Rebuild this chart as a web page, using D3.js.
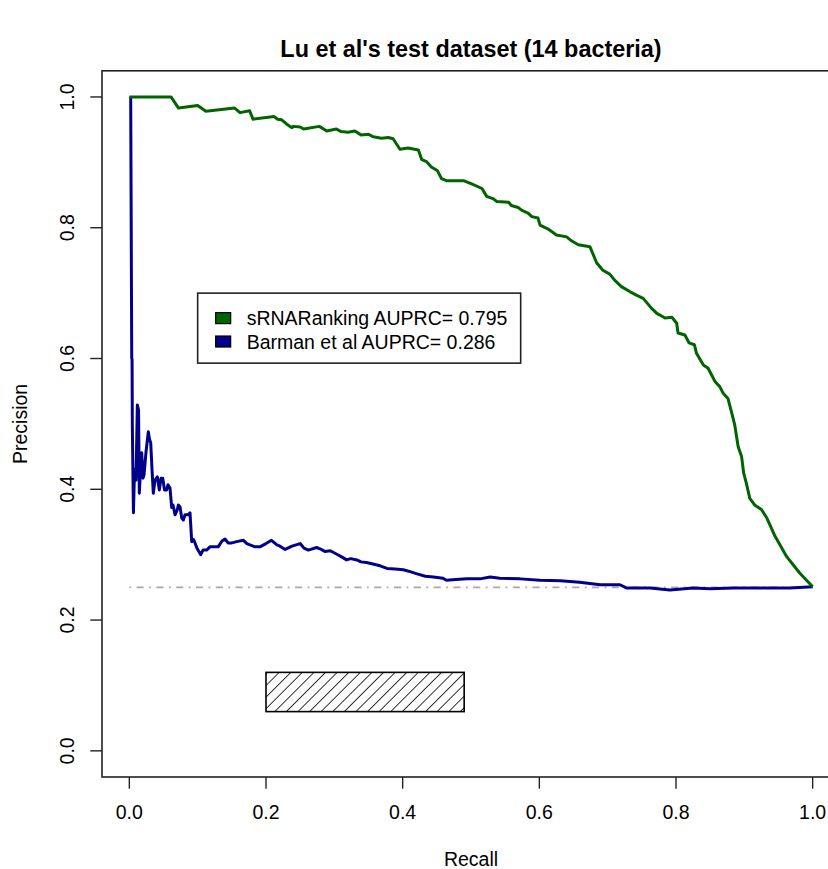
<!DOCTYPE html>
<html>
<head>
<meta charset="utf-8">
<script src="https://cdn.jsdelivr.net/npm/d3@7"></script>
<style>
  body { margin: 0; background: #fff; }
  text { font-family: "Liberation Sans", Arial, sans-serif; fill: #000; }
</style>
</head>
<body>
<svg id="chart" width="828" height="869"></svg>
<script>
// chart values
const titleText = "Lu et al's test dataset (14 bacteria)";
const xTicks = [0, 0.2, 0.4, 0.6, 0.8, 1.0];
const yTicks = [0, 0.2, 0.4, 0.6, 0.8, 1.0];
const seriesNames = ["sRNARanking AUPRC= 0.795", "Barman et al AUPRC= 0.286"];
const seriesColors = ["#006400", "#00008B"];
const baseline = 0.25;
const hatchBox = [0.2, 0.06, 0.49, 0.12];
const legendPos = [0.1, 0.7];

// sRNARanking: [recall, precision]
const srnaRanking = [
  [0,1],[0.061,1],[0.072,0.983],[0.100,0.987],[0.112,0.978],[0.154,0.983],[0.162,0.976],
  [0.176,0.979],[0.181,0.966],[0.212,0.970],[0.217,0.966],[0.223,0.965],[0.232,0.957],
  [0.238,0.953],[0.240,0.955],[0.250,0.954],[0.255,0.951],[0.278,0.955],[0.289,0.948],
  [0.303,0.951],[0.310,0.947],[0.320,0.946],[0.330,0.948],[0.339,0.942],[0.350,0.943],
  [0.357,0.939],[0.369,0.937],[0.379,0.938],[0.386,0.936],[0.396,0.920],[0.408,0.922],
  [0.423,0.919],[0.428,0.904],[0.435,0.901],[0.442,0.893],[0.451,0.887],[0.457,0.875],
  [0.464,0.872],[0.477,0.872],[0.489,0.872],[0.501,0.867],[0.516,0.860],[0.523,0.848],
  [0.533,0.844],[0.538,0.840],[0.555,0.839],[0.559,0.834],[0.569,0.831],[0.574,0.827],
  [0.584,0.822],[0.589,0.817],[0.598,0.815],[0.601,0.804],[0.613,0.798],[0.625,0.789],
  [0.640,0.786],[0.647,0.780],[0.657,0.774],[0.674,0.771],[0.684,0.746],[0.693,0.735],
  [0.703,0.729],[0.711,0.719],[0.720,0.710],[0.733,0.702],[0.742,0.697],[0.752,0.692],
  [0.764,0.677],[0.772,0.669],[0.784,0.662],[0.794,0.663],[0.801,0.654],[0.803,0.639],
  [0.813,0.636],[0.819,0.624],[0.827,0.621],[0.830,0.608],[0.840,0.590],[0.847,0.585],
  [0.857,0.565],[0.864,0.557],[0.869,0.547],[0.876,0.539],[0.881,0.519],[0.886,0.498],
  [0.891,0.465],[0.896,0.450],[0.899,0.425],[0.903,0.409],[0.908,0.386],[0.915,0.376],
  [0.925,0.369],[0.933,0.356],[0.945,0.328],[0.962,0.297],[0.981,0.272],[1.0,0.251]
];

// Barman et al: [recall, precision]
const barman = [
  [0.002,1],[0.0035,0.601],[0.004,0.598],[0.0044,0.498],[0.006,0.364],[0.0076,0.43],
  [0.0098,0.414],[0.0117,0.529],[0.0135,0.521],[0.0146,0.394],[0.0164,0.43],[0.0181,0.456],
  [0.020,0.417],[0.0215,0.422],[0.0244,0.457],[0.0278,0.488],[0.0296,0.476],[0.0313,0.471],
  [0.0332,0.43],[0.0351,0.394],[0.0376,0.414],[0.041,0.419],[0.0439,0.399],[0.0464,0.417],
  [0.0489,0.417],[0.0515,0.399],[0.0547,0.399],[0.0566,0.407],[0.0595,0.402],[0.062,0.372],
  [0.064,0.376],[0.0669,0.361],[0.070,0.368],[0.0717,0.376],[0.0742,0.373],[0.0767,0.356],
  [0.079,0.353],[0.0815,0.361],[0.0863,0.361],[0.0888,0.364],[0.0913,0.32],[0.094,0.323],
  [0.0961,0.318],[0.099,0.310],[0.1045,0.300],[0.1078,0.307],[0.113,0.307],[0.118,0.312],
  [0.123,0.312],[0.130,0.312],[0.1356,0.321],[0.140,0.324],[0.1444,0.318],[0.150,0.318],
  [0.157,0.320],[0.167,0.322],[0.172,0.317],[0.1766,0.315],[0.184,0.312],[0.191,0.312],
  [0.200,0.317],[0.208,0.322],[0.216,0.315],[0.2205,0.313],[0.228,0.308],[0.238,0.313],
  [0.250,0.317],[0.2556,0.310],[0.262,0.307],[0.274,0.311],[0.279,0.309],[0.286,0.305],
  [0.294,0.306],[0.303,0.301],[0.310,0.297],[0.318,0.292],[0.324,0.294],[0.333,0.292],
  [0.339,0.289],[0.347,0.288],[0.355,0.286],[0.367,0.283],[0.377,0.279],[0.389,0.278],
  [0.401,0.277],[0.411,0.274],[0.420,0.271],[0.433,0.267],[0.445,0.266],[0.459,0.264],
  [0.464,0.261],[0.478,0.262],[0.494,0.263],[0.513,0.263],[0.528,0.266],[0.542,0.264],
  [0.572,0.263],[0.601,0.261],[0.631,0.260],[0.659,0.258],[0.689,0.254],[0.718,0.254],
  [0.728,0.249],[0.762,0.249],[0.791,0.246],[0.825,0.249],[0.850,0.248],[0.884,0.249],
  [0.933,0.249],[0.967,0.249],[1.0,0.251]
];

const svg = d3.select("#chart");

const plotL = 102, plotR = 840, plotT = 70.8, plotB = 777;
const fontSize = 19.5;
const lineH = 23.4;

const x = d3.scaleLinear().domain([-0.04, 1.04]).range([plotL, plotR]);
const y = d3.scaleLinear().domain([-0.04, 1.04]).range([plotB, plotT]);

// hatching for the rectangle
const defs = svg.append("defs");
defs.append("pattern")
    .attr("id", "hatch")
    .attr("patternUnits", "userSpaceOnUse")
    .attr("width", 20)
    .attr("height", 8.2)
    .attr("patternTransform", "rotate(-45)")
  .append("line")
    .attr("x1", 0).attr("y1", 0)
    .attr("x2", 20).attr("y2", 0)
    .attr("stroke", "#000")
    .attr("stroke-width", 1.6);

// plot box
svg.append("rect")
    .attr("x", plotL).attr("y", plotT)
    .attr("width", plotR - plotL).attr("height", plotB - plotT)
    .attr("fill", "none")
    .attr("stroke", "#222")
    .attr("stroke-width", 1.6);

// x axis
const xAxis = svg.append("g");
xAxis.selectAll("line")
    .data(xTicks).enter().append("line")
    .attr("x1", d => x(d)).attr("x2", d => x(d))
    .attr("y1", plotB).attr("y2", plotB + lineH * 0.5)
    .attr("stroke", "#222").attr("stroke-width", 1.4);
xAxis.selectAll("text")
    .data(xTicks).enter().append("text")
    .attr("x", d => x(d))
    .attr("y", plotB + lineH * 1.8)
    .attr("text-anchor", "middle")
    .style("font-size", fontSize + "px")
    .text(d => d.toFixed(1));

// y axis
const yAxis = svg.append("g");
yAxis.selectAll("line")
    .data(yTicks).enter().append("line")
    .attr("x1", plotL - lineH * 0.5).attr("x2", plotL)
    .attr("y1", d => y(d)).attr("y2", d => y(d))
    .attr("stroke", "#222").attr("stroke-width", 1.4);
yAxis.selectAll("text")
    .data(yTicks).enter().append("text")
    .attr("transform", d => `translate(${plotL - lineH * 1.2},${y(d)}) rotate(-90)`)
    .attr("text-anchor", "middle")
    .style("font-size", fontSize + "px")
    .text(d => d.toFixed(1));

// titles
svg.append("text")
    .attr("x", (plotL + plotR) / 2).attr("y", 57)
    .attr("text-anchor", "middle")
    .style("font-size", (fontSize * 1.2) + "px")
    .style("font-weight", "bold")
    .text(titleText);

svg.append("text")
    .attr("x", (plotL + plotR) / 2).attr("y", plotB + lineH * 3.8)
    .attr("text-anchor", "middle")
    .style("font-size", fontSize + "px")
    .text("Recall");

svg.append("text")
    .attr("transform", `translate(${plotL - lineH * 3.2},${(plotT + plotB) / 2}) rotate(-90)`)
    .attr("text-anchor", "middle")
    .style("font-size", fontSize + "px")
    .text("Precision");

// random-classifier baseline
svg.append("line")
    .attr("x1", x(0)).attr("x2", x(1))
    .attr("y1", y(baseline)).attr("y2", y(baseline))
    .attr("stroke", "#A9A9A9")
    .attr("stroke-width", 1.8)
    .attr("stroke-dasharray", "1.8,5.4,7.2,5.4");

// hatched rectangle
svg.append("rect")
    .attr("x", x(hatchBox[0])).attr("y", y(hatchBox[3]))
    .attr("width", x(hatchBox[2]) - x(hatchBox[0]))
    .attr("height", y(hatchBox[1]) - y(hatchBox[3]))
    .attr("fill", "url(#hatch)")
    .attr("stroke", "#000")
    .attr("stroke-width", 1.6);

// PR curves
const line = d3.line().x(d => x(d[0])).y(d => y(d[1]));

svg.append("path")
    .datum(barman)
    .attr("d", line)
    .attr("fill", "none")
    .attr("stroke", seriesColors[1])
    .attr("stroke-width", 3)
    .attr("stroke-linejoin", "round");

svg.append("path")
    .datum(srnaRanking)
    .attr("d", line)
    .attr("fill", "none")
    .attr("stroke", seriesColors[0])
    .attr("stroke-width", 3)
    .attr("stroke-linejoin", "round");

// legend
const lx = x(legendPos[0]), ly = y(legendPos[1]);
const legend = svg.append("g");
legend.append("rect")
    .attr("x", lx).attr("y", ly)
    .attr("width", 323).attr("height", 70)
    .attr("fill", "#fff")
    .attr("stroke", "#222")
    .attr("stroke-width", 1.6);

seriesNames.forEach((name, i) => {
    const cy = ly + 25 + i * lineH;
    legend.append("rect")
        .attr("x", lx + 18).attr("y", cy - 5.5)
        .attr("width", 15).attr("height", 11)
        .attr("fill", seriesColors[i])
        .attr("stroke", "#000")
        .attr("stroke-width", 1.2);
    legend.append("text")
        .attr("x", lx + 49).attr("y", cy + 7)
        .style("font-size", fontSize + "px")
        .text(name);
});
</script>
</body>
</html>
